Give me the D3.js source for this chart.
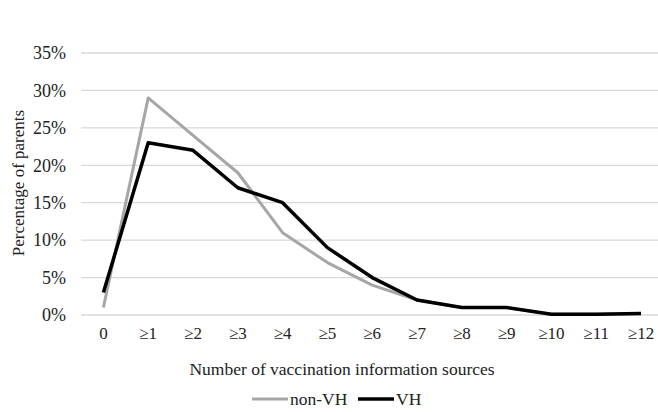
<!DOCTYPE html>
<html><head><meta charset="utf-8">
<script src="https://cdn.jsdelivr.net/npm/d3@7"></script>
<style>body{margin:0;background:#fff}</style>
</head><body>
<script>
const categories = ["0","≥1","≥2","≥3","≥4","≥5","≥6","≥7","≥8","≥9","≥10","≥11","≥12"];
const nonVH = [1,29,24,19,11,7,4,2,1,1,0.1,0.1,0.2];
const VH = [3,23,22,17,15,9,5,2,1,1,0.1,0.1,0.2];
const yTicks = [0,5,10,15,20,25,30,35];
const seriesNames = ["non-VH","VH"];

const W=658,H=412;
const svg=d3.select("body").append("svg").attr("width",W).attr("height",H)
  .style("display","block")
  .attr("font-family","'Liberation Serif', 'Times New Roman', Tinos, 'DejaVu Serif', serif");
const x=d3.scaleBand().domain(categories).range([81,81+13*44.8]);
const y=d3.scaleLinear().domain([0,35]).range([315,53]);

svg.append("g").selectAll("line").data(yTicks).join("line")
  .attr("x1",81).attr("x2",W).attr("y1",d=>y(d)).attr("y2",d=>y(d))
  .attr("stroke","#d9d9d9").attr("stroke-width",1.3);

svg.append("g").selectAll("text").data(yTicks).join("text")
  .attr("x",66).attr("y",d=>y(d)).attr("dy","0.35em").attr("text-anchor","end")
  .attr("font-size",18).attr("fill","#222").text(d=>d+"%");

svg.append("g").selectAll("text").data(categories).join("text")
  .attr("x",d=>x(d)+x.bandwidth()/2).attr("y",339).attr("text-anchor","middle")
  .attr("font-size",17).attr("fill","#222").text(d=>d);

const line=d3.line().x((d,i)=>x(categories[i])+x.bandwidth()/2).y(d=>y(d));
svg.append("path").datum(nonVH).attr("d",line).attr("fill","none")
  .attr("stroke","#a6a6a6").attr("stroke-width",3).attr("stroke-linejoin","round");
svg.append("path").datum(VH).attr("d",line).attr("fill","none")
  .attr("stroke","#000").attr("stroke-width",3.5).attr("stroke-linejoin","round");

svg.append("text").attr("transform","translate(24,183) rotate(-90)").attr("text-anchor","middle")
  .attr("font-size",17).attr("fill","#222").text("Percentage of parents");
svg.append("text").attr("x",342).attr("y",375).attr("text-anchor","middle")
  .attr("font-size",17.5).attr("fill","#222").text("Number of vaccination information sources");

const lg=svg.append("g");
lg.append("line").attr("x1",252).attr("x2",288).attr("y1",399).attr("y2",399).attr("stroke","#a6a6a6").attr("stroke-width",3);
lg.append("text").attr("x",290).attr("y",405).attr("font-size",17.5).attr("fill","#222").text(seriesNames[0]);
lg.append("line").attr("x1",358).attr("x2",394).attr("y1",399).attr("y2",399).attr("stroke","#000").attr("stroke-width",3.5);
lg.append("text").attr("x",396).attr("y",405).attr("font-size",17.5).attr("fill","#222").text(seriesNames[1]);
</script>
</body></html>
